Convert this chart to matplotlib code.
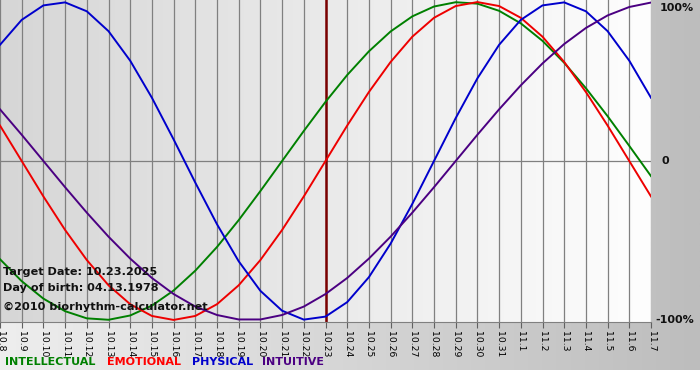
import numpy as np
import matplotlib
matplotlib.use("Agg")
import matplotlib.pyplot as plt
from matplotlib.colors import LinearSegmentedColormap

# day labels along the bottom (10.8 ... 11.7)
days = ['10.8', '10.9', '10.10', '10.11', '10.12', '10.13', '10.14', '10.15', '10.16',
        '10.17', '10.18', '10.19', '10.20', '10.21', '10.22', '10.23', '10.24', '10.25',
        '10.26', '10.27', '10.28', '10.29', '10.30', '10.31', '11.1', '11.2', '11.3',
        '11.4', '11.5', '11.6', '11.7']
target_day = '10.23'

# cycle values (-1 .. 1) read per day
intellectual = [-0.618, -0.756, -0.866, -0.945, -0.990, -0.999, -0.972, -0.910, -0.815,
                -0.690, -0.541, -0.372, -0.189, 0.000, 0.189, 0.372, 0.541, 0.690,
                0.815, 0.910, 0.972, 0.999, 0.990, 0.945, 0.866, 0.756, 0.618, 0.458,
                0.282, 0.095, -0.095]
emotional = [0.223, 0.000, -0.223, -0.434, -0.623, -0.782, -0.901, -0.975, -1.000,
             -0.975, -0.901, -0.782, -0.623, -0.434, -0.223, 0.000, 0.223, 0.434,
             0.623, 0.782, 0.901, 0.975, 1.000, 0.975, 0.901, 0.782, 0.623, 0.434,
             0.223, 0.000, -0.223]
physical = [0.731, 0.888, 0.979, 0.998, 0.942, 0.817, 0.631, 0.398, 0.136, -0.136,
            -0.398, -0.631, -0.817, -0.942, -0.998, -0.979, -0.888, -0.731, -0.520,
            -0.270, 0.000, 0.270, 0.520, 0.731, 0.888, 0.979, 0.998, 0.942, 0.817,
            0.631, 0.398]
intuitive = [0.325, 0.165, 0.000, -0.165, -0.325, -0.476, -0.614, -0.736, -0.837,
             -0.916, -0.969, -0.997, -0.997, -0.969, -0.916, -0.837, -0.736, -0.614,
             -0.476, -0.325, -0.165, 0.000, 0.165, 0.325, 0.476, 0.614, 0.736, 0.837,
             0.916, 0.969, 0.997]

series = [('INTELLECTUAL', intellectual, '#008000'),
          ('EMOTIONAL', emotional, '#ee0000'),
          ('PHYSICAL', physical, '#0000cc'),
          ('INTUITIVE', intuitive, '#4b0082')]

W, H = 700, 380
fig = plt.figure(figsize=(W / 100, H / 100), dpi=100)
fig.patch.set_facecolor('white')

# outer gray gradient (everything above the white strip at the bottom)
bg = fig.add_axes([0, 10 / H, 1, 1 - 10 / H])
bg.set_axis_off()
outer_cmap = LinearSegmentedColormap.from_list('outer', ['#eeeeee', '#bdbdbd'])
bg.imshow(np.linspace(0, 1, 256)[None, :], cmap=outer_cmap, aspect='auto',
          extent=[0, 1, 0, 1], zorder=0)
bg.set_xlim(0, 1)
bg.set_ylim(0, 1)

# plot area
ymax = 1.013
ax = fig.add_axes([0, 1 - 322 / H, 651 / W, 322 / H])
x = np.arange(len(days))
ax.set_xlim(0, len(days) - 1)
ax.set_ylim(-ymax, ymax)

inner_cmap = LinearSegmentedColormap.from_list('inner', ['#d6d6d6', '#fefefe'])
ax.imshow(np.linspace(0, 1, 256)[None, :], cmap=inner_cmap, aspect='auto',
          extent=[0, len(days) - 1, -ymax, ymax], zorder=0)

for xi in x:
    ax.axvline(xi, color='#808080', lw=0.9, zorder=1)
ax.axhline(0, color='#808080', lw=0.9, zorder=1)
ax.axvline(days.index(target_day), color='#7a0000', lw=1.8, zorder=2)

for name, vals, color in series:
    ax.plot(x, vals, color=color, lw=1.4, zorder=3, solid_joinstyle='round')

for side in ['top', 'left', 'right']:
    ax.spines[side].set_visible(False)
ax.spines['bottom'].set_color('#808080')

ax.set_xticks(x)
ax.set_xticklabels(days, rotation=270, fontsize=6.7, va='top', ha='center')
ax.tick_params(axis='x', length=4.5, width=0.8, color='#606060', pad=2)
ax.set_yticks([])

# percent labels on the right
for val, lab, dx, dy in [(1, '100%', 9, -6), (0, '0', 11, 0), (-1, '-100%', 4, 0)]:
    ax.annotate(lab, xy=(len(days) - 1, val), xytext=(dx, dy), textcoords='offset pixels',
                fontsize=8, fontweight='bold', va='center', ha='left', color='#111111',
                annotation_clip=False)

# info text inside the plot
info = [('Target Date: 10.23.2025', 272), ('Day of birth: 04.13.1978', 288),
        ('\u00a92010 biorhythm-calculator.net', 307)]
for txt, py in info:
    fig.text(3 / W, 1 - py / H, txt, fontsize=8.1, fontweight='bold', color='#111111',
             va='center', ha='left')

# legend row
legend_x = [5, 107, 192, 262]
for (name, vals, color), lx in zip(series, legend_x):
    lc = '#ff0000' if name == 'EMOTIONAL' else color
    fig.text(lx / W, 1 - 362 / H, name, fontsize=8, fontweight='bold', color=lc,
             va='center', ha='left')

fig.savefig('out.png', dpi=100)
